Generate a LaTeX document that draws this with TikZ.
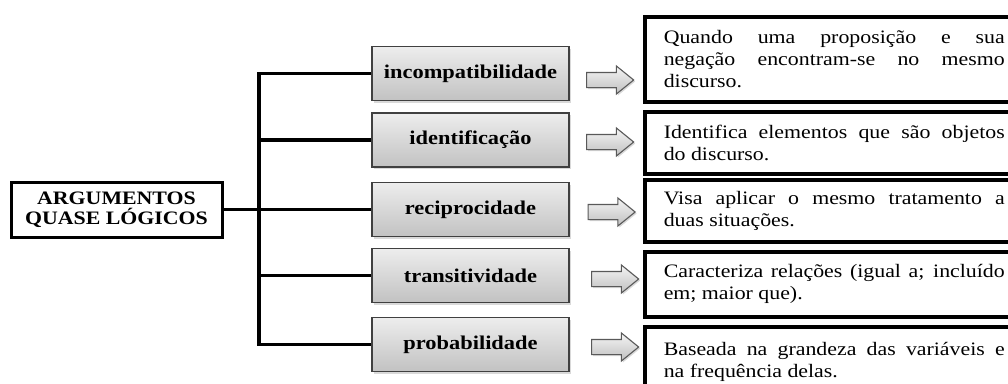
\documentclass[tikz,border=0pt]{standalone}
\usepackage{fontspec}
\setmainfont{Liberation Serif}[FakeStretch=1.15]
\usetikzlibrary{positioning,shapes.arrows,shadows}

\begin{document}
\begin{tikzpicture}[x=1pt,y=-1pt,
    rootbox/.style={draw=black,line width=3pt,minimum width=211pt,minimum height=55pt,inner sep=0pt,align=center,font=\fontsize{19}{20}\selectfont\bfseries},
    typebox/.style={draw=black!75,line width=1.3pt,top color=black!7,bottom color=black!24,drop shadow={shadow xshift=2pt,shadow yshift=-2pt,opacity=0.3},minimum width=197pt,minimum height=54pt,font=\fontsize{19.5}{22}\selectfont\bfseries},
    blockarrow/.style={single arrow,draw=black!65,line width=1.1pt,top color=black!4,bottom color=black!25,inner sep=7pt,single arrow head extend=6.5pt,single arrow tip angle=78,minimum height=47pt,drop shadow={shadow xshift=1.5pt,shadow yshift=-1.5pt,opacity=0.3}},
    descbox/.style={draw=black,line width=3.5pt,anchor=north west,text width=341pt,align=justify,inner xsep=19pt,font=\fontsize{19}{22}\selectfont},
    trunk/.style={line width=3.3pt,line join=miter}]
    \useasboundingbox (0,0) rectangle (1008,383);

    % Root box
    \node[rootbox] (root) at (116.5,209.5) {ARGUMENTOS\\QUASE LÓGICOS};

    % Types of argument
    \node[typebox] (incomp) at (470.5,73.5) {incompatibilidade};
    \node[typebox] (ident) at (470.5,140) {identificação};
    \node[typebox] (recip) at (470.5,209.5) {reciprocidade};
    \node[typebox] (trans) at (470.5,275.5) {transitividade};
    \node[typebox] (prob) at (470.5,344.5) {probabilidade};

    % Tree lines
    \coordinate (fork) at (259,209.5);
    \draw[trunk] (root.east) -- (fork);
    \draw[trunk] (fork) |- (incomp.west);
    \draw[trunk] (fork) |- (ident.west);
    \draw[trunk] (fork) -- (recip.west);
    \draw[trunk] (fork) |- (trans.west);
    \draw[trunk] (fork) |- (prob.west);

    % Block arrows
    \node[blockarrow] (arrincomp) at (605.5,80) {};
    \node[blockarrow] (arrident) at (605.5,142) {};
    \node[blockarrow] (arrrecip) at (607,212) {};
    \node[blockarrow] (arrtrans) at (610.5,279) {};
    \node[blockarrow] (arrprob) at (610.5,347) {};

    % Descriptions
    \node[descbox,minimum height=85pt] (descincomp) at (643,15) {Quando uma proposição e sua\linebreak negação encontram-se no mesmo\linebreak discurso.};
    \node[descbox,minimum height=62pt] (descident) at (643,110) {Identifica elementos que são objetos\linebreak do discurso.};
    \node[descbox,minimum height=62pt] (descrecip) at (643,178) {Visa aplicar o mesmo tratamento a\linebreak duas situações.};
    \node[descbox,minimum height=65pt] (desctrans) at (643,250) {Caracteriza relações (igual a; incluído\linebreak em; maior que).};
    \node[descbox,minimum height=70pt] (descprob) at (643,325) {Baseada na grandeza das variáveis e\linebreak na frequência delas.};
\end{tikzpicture}
\end{document}
